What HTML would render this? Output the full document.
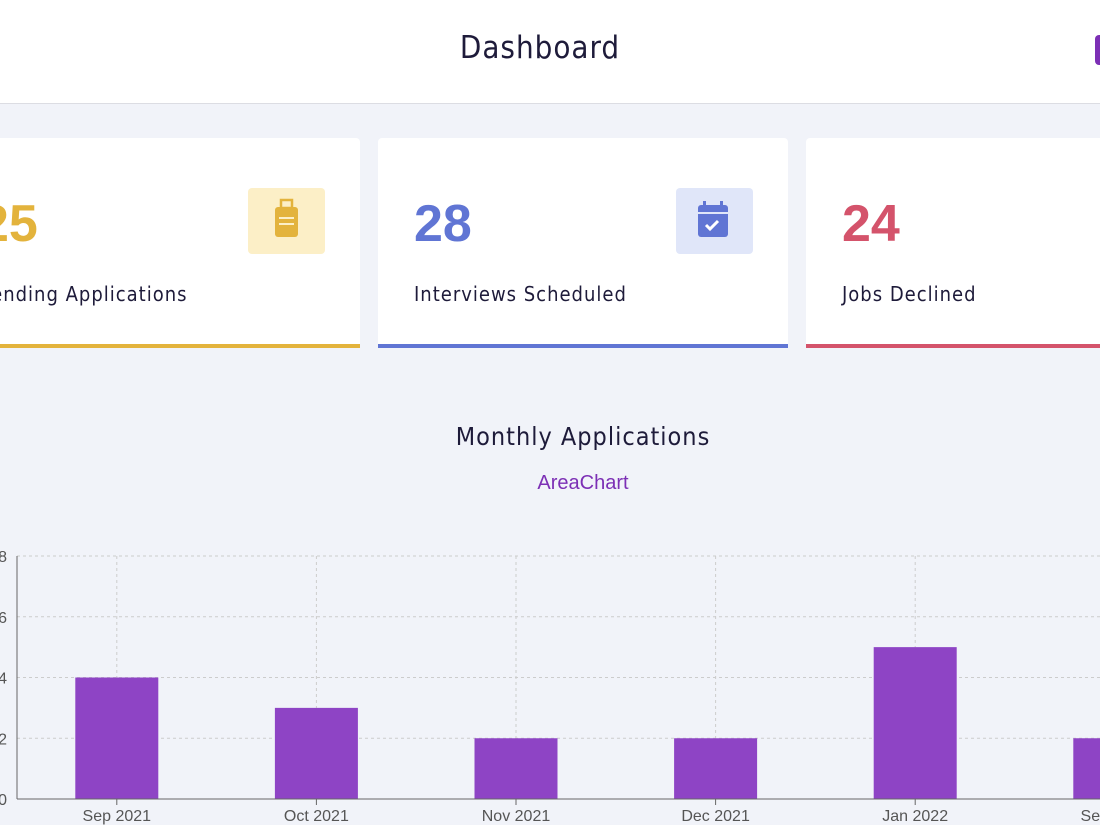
<!DOCTYPE html>
<html><head><meta charset="utf-8"><style>
html,body{margin:0;width:1100px;height:825px;overflow:hidden}
body{background:#f1f3f9;font-family:"Liberation Sans",sans-serif;position:relative}
#wrap{position:absolute;left:0;top:0;width:1100px;height:825px;overflow:hidden}
.hdr{position:absolute;left:0;top:0;width:1100px;height:103px;background:#fff;border-bottom:1px solid #dcdde3}
.hdr h1{margin:0;position:absolute;left:0;width:1080px;top:30px;text-align:center;font-weight:normal;font-size:31px;letter-spacing:1px;color:#1e1b3a;font-family:"DejaVu Sans Condensed","Liberation Sans",sans-serif}
.btn{position:absolute;left:1095px;top:35px;width:30px;height:30px;background:#7c2fb5;border-radius:4px}
.card{position:absolute;top:138px;width:410px;height:206px;background:#fff;border-radius:4px 4px 0 0}
.num{position:absolute;left:36px;top:56px;font-size:52px;font-weight:bold}
.lbl{position:absolute;left:36px;top:144px;font-size:20px;letter-spacing:1px;color:#1e1b3a;font-family:"DejaVu Sans Condensed","Liberation Sans",sans-serif}
.ico{position:absolute;left:298px;top:50px;width:77px;height:66px;border-radius:4px}
.t{position:absolute;text-align:center;width:1100px;left:33px}
</style></head><body>
<div id="wrap">
<div class="hdr"><h1>Dashboard</h1><div class="btn"></div></div>

<div class="card" style="left:-50px;border-bottom:4px solid #e3b33c">
<div class="num" style="color:#e3b33c;left:30px">25</div>
<div class="lbl" style="left:30px">Pending Applications</div>
<div class="ico" style="background:#fcefc7"><svg width="77" height="66"><rect x="33" y="12" width="11" height="8" fill="none" stroke="#e3b33c" stroke-width="2.5"/><rect x="27" y="19" width="23" height="30" rx="3" fill="#e3b33c"/><rect x="31" y="29" width="15" height="2" fill="#fcefc7"/><rect x="31" y="35" width="15" height="2" fill="#fcefc7"/></svg></div>
</div>
<div class="card" style="left:378px;border-bottom:4px solid #6075d4">
<div class="num" style="color:#6075d4">28</div>
<div class="lbl">Interviews Scheduled</div>
<div class="ico" style="background:#e0e6f9"><svg width="77" height="66"><rect x="22" y="17" width="30" height="32" rx="3" fill="#6075d4"/><rect x="27" y="13" width="3" height="7" fill="#6075d4"/><rect x="44" y="13" width="3" height="7" fill="#6075d4"/><rect x="22" y="24" width="30" height="2" fill="#e0e6f9"/><path d="M30 37l4 4 8-8" stroke="#fff" stroke-width="3" fill="none"/></svg></div>
</div>
<div class="card" style="left:806px;border-bottom:4px solid #d4536b">
<div class="num" style="color:#d4536b">24</div>
<div class="lbl">Jobs Declined</div>
</div>

<div class="t" style="top:422px;font-size:25px;color:#1e1b3a;letter-spacing:1px;font-family:'DejaVu Sans Condensed','Liberation Sans',sans-serif">Monthly Applications</div>
<div class="t" style="top:472px;font-size:20px;color:#7c2fb5">AreaChart</div>

<svg id="chart" style="position:absolute;left:0;top:0" width="1100" height="825"></svg>
</div>
<script>
const categories=["Sep 2021","Oct 2021","Nov 2021","Dec 2021","Jan 2022","Sep 2022"];
const values=[4,3,2,2,5,2];
const yTicks=[0,2,4,6,8];
const svg=document.getElementById('chart');const NS='http://www.w3.org/2000/svg';
const x0=17,step=199.6,y0=799,yTop=556,yMax=8;
const xc=i=>x0+step*(i+0.5);
const y=v=>y0-(y0-yTop)*v/yMax;
function mk(t,a){const e=document.createElementNS(NS,t);for(const k in a)e.setAttribute(k,a[k]);svg.appendChild(e);return e;}
yTicks.forEach(v=>{
 if(v>0){const g=mk('line',{x1:x0,x2:1100,y1:y(v),y2:y(v),stroke:'#ccc','stroke-dasharray':'3 3'});
 }
 const t=mk('text',{x:x0-10,y:y(v)+6,'text-anchor':'end','font-size':16,fill:'#555','font-family':'Liberation Sans'});t.textContent=v;
 
});
categories.forEach((c,i)=>{
 const g=mk('line',{x1:xc(i),x2:xc(i),y1:yTop,y2:y0,stroke:'#ccc','stroke-dasharray':'3 3'});
 
});
categories.forEach((c,i)=>{
 const b=mk('rect',{x:xc(i)-41.5,y:y(values[i]),width:83,height:y0-y(values[i]),fill:'#8e44c5'});
 
 const tk=mk('line',{x1:xc(i),x2:xc(i),y1:y0,y2:y0+6,stroke:'#666'});
 
 const t=mk('text',{x:xc(i),y:y0+22,'text-anchor':'middle','font-size':16,fill:'#555','font-family':'Liberation Sans'});t.textContent=c;
 
});
const ya=mk('line',{x1:x0,x2:x0,y1:yTop,y2:y0,stroke:'#666'});

const xa=mk('line',{x1:x0,x2:1100,y1:y0,y2:y0,stroke:'#666'});

</script>
</body></html>
